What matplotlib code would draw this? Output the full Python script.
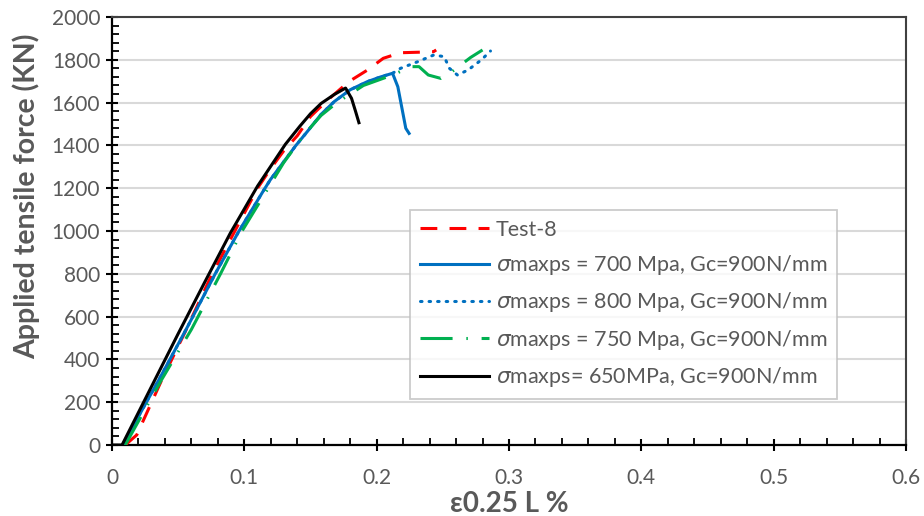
import matplotlib
matplotlib.use("Agg")
import matplotlib.pyplot as plt
from matplotlib.ticker import MultipleLocator

plt.rcParams['font.family'] = ['Lato', 'DejaVu Sans']

# ---- data ----
test8_x = [0.010, 0.0187, 0.0376, 0.055, 0.075, 0.092, 0.110, 0.1197, 0.1298, 0.140, 0.150,
           0.163, 0.179, 0.193, 0.205, 0.218, 0.235, 0.243, 0.245]
test8_y = [0, 47, 304, 525, 790, 990, 1200, 1290, 1375, 1445, 1535,
           1612, 1698, 1752, 1807, 1833, 1836, 1838, 1846]

s700_x = [0.008, 0.035, 0.056, 0.078, 0.0957, 0.1146, 0.1197, 0.139, 0.1475, 0.158, 0.168,
          0.180, 0.193, 0.203, 0.212, 0.216, 0.222, 0.2245]
s700_y = [0, 300, 540, 800, 997, 1190, 1240, 1400, 1464, 1545, 1605,
          1660, 1698, 1720, 1737, 1674, 1480, 1456]

s800_x = [0.008, 0.035, 0.056, 0.078, 0.0957, 0.1146, 0.1197, 0.139, 0.1475, 0.158, 0.168,
          0.180, 0.193, 0.203, 0.212, 0.218, 0.231, 0.243, 0.251, 0.255, 0.261, 0.269,
          0.279, 0.286]
s800_y = [0, 300, 540, 800, 997, 1190, 1240, 1400, 1464, 1545, 1605,
          1660, 1698, 1720, 1737, 1760, 1791, 1822, 1815, 1760, 1729, 1752,
          1799, 1841]

s750_x = [0.010, 0.037, 0.060, 0.082, 0.098, 0.118, 0.1298, 0.145, 0.158, 0.170, 0.190,
          0.212, 0.226, 0.232, 0.239, 0.2485, 0.257, 0.271, 0.280]
s750_y = [0, 300, 540, 800, 997, 1200, 1320, 1449, 1540, 1600, 1680,
          1729, 1768, 1768, 1729, 1713, 1745, 1811, 1846]

s650_x = [0.0, 0.0076, 0.030, 0.050, 0.070, 0.0894, 0.110, 0.131, 0.142, 0.150, 0.158,
          0.168, 0.1765, 0.181, 0.184, 0.1866]
s650_y = [0, 0, 275, 520, 760, 990, 1210, 1405, 1490, 1548, 1596,
          1638, 1668, 1620, 1560, 1506]

x_ticks = [0, 0.1, 0.2, 0.3, 0.4, 0.5, 0.6]
x_ticklabels = ['0', '0.1', '0.2', '0.3', '0.4', '0.5', '0.6']

labels = ['Test-8',
          r'$\sigma$maxps = 700 Mpa, Gc=900N/mm',
          r'$\sigma$maxps = 800 Mpa, Gc=900N/mm',
          r'$\sigma$maxps = 750 Mpa, Gc=900N/mm',
          r'$\sigma$maxps= 650MPa, Gc=900N/mm']

grey = '#595959'

fig = plt.figure(figsize=(9.24, 5.16), dpi=100)
ax = fig.add_axes([112 / 924, 71 / 516, 794 / 924, 428 / 516])

ax.plot(test8_x, test8_y, color='#FF0000', lw=2.2, ls=(0, (5.5, 4)), label=labels[0], zorder=3)
ax.plot(s700_x, s700_y, color='#0070C0', lw=2.2, label=labels[1], zorder=3)
ax.plot(s800_x, s800_y, color='#0070C0', lw=2.2, ls=(0, (0.5, 2.3)), dash_capstyle='round',
        label=labels[2], zorder=3)
ax.plot(s750_x, s750_y, color='#00B050', lw=2.2, ls=(0, (10.5, 4.5, 0.5, 4.5)), label=labels[3], zorder=3)
ax.plot(s650_x, s650_y, color='black', lw=2.2, label=labels[4], zorder=4)

ax.set_xlim(0, 0.6)
ax.set_ylim(0, 2000)
ax.set_xticks(x_ticks)
ax.set_xticklabels(x_ticklabels)
ax.xaxis.set_minor_locator(MultipleLocator(0.02))
ax.yaxis.set_major_locator(MultipleLocator(200))
ax.yaxis.set_minor_locator(MultipleLocator(40))

ax.tick_params(axis='both', which='major', direction='inout', length=9, width=1.5,
               colors='black', labelcolor=grey, labelsize=15)
ax.tick_params(axis='both', which='minor', direction='in', length=5, width=1.3, colors='black')
ax.tick_params(axis='x', which='major', pad=12)
ax.tick_params(axis='y', which='major', pad=4)

ax.grid(True, axis='y', which='major', color='#D9D9D9', lw=1.5, zorder=0)
ax.set_axisbelow(True)
for side in ['left', 'bottom']:
    ax.spines[side].set_color('black')
    ax.spines[side].set_linewidth(1.6)
for side in ['top', 'right']:
    ax.spines[side].set_color('#404040')
    ax.spines[side].set_linewidth(1.5)

ax.set_xlabel('\u03b50.25 L %', fontsize=20, fontweight='bold', color=grey, labelpad=2)
ax.set_ylabel('Applied tensile force (KN)', fontsize=20.5, fontweight='bold', color=grey, labelpad=0)
ax.yaxis.set_label_coords(-0.09, 0.58)

leg = ax.legend(loc='upper left', bbox_to_anchor=(410 / 924, 1 - 210 / 516),
                bbox_transform=fig.transFigure, fontsize=15.5, frameon=True, fancybox=False,
                handlelength=3.2, handletextpad=0.35, labelspacing=0.62, borderpad=0.45,
                borderaxespad=0)
leg.get_frame().set_edgecolor('#BFBFBF')
leg.get_frame().set_linewidth(1.3)
for t in leg.get_texts():
    t.set_color(grey)

fig.savefig('out.png', dpi=100)
